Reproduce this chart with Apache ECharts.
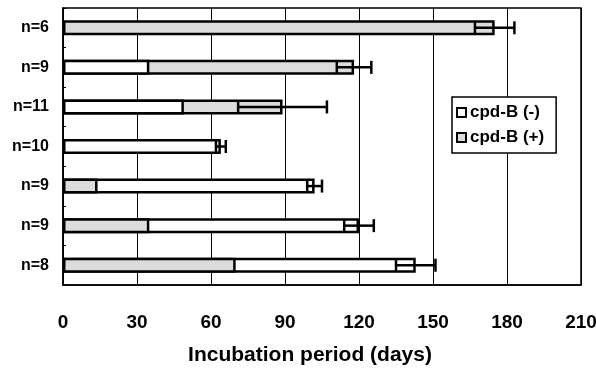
<!DOCTYPE html>
<html>
<head>
<meta charset="utf-8">
<script src="https://cdn.jsdelivr.net/npm/echarts@6/dist/echarts.min.js"></script>
<style>
  html, body { margin: 0; padding: 0; background: #fff; }
  #chart { width: 596px; height: 368px; }
</style>
</head>
<body>
<div id="chart"></div>
<script>
// rows top to bottom
const rowLabels = ['n=6', 'n=9', 'n=11', 'n=10', 'n=9', 'n=9', 'n=8']
// incubation period (days); null = not visible
const minusDays = [null, 35, 49, 64, 102, 120, 143]   // cpd-B (-)
const plusDays = [175, 118, 89, null, 14, 35, 70]     // cpd-B (+)
const errDays = [8, 7, 18, 2, 3, 6, 8]
const xTicks = [0, 30, 60, 90, 120, 150, 180, 210]

const WHITE = '#ffffff'
const GRAY = '#dcdcdc'

// longer bar goes behind, shorter one drawn over it
const backData = [], frontData = [], errData = []
rowLabels.forEach((_, i) => {
  const m = minusDays[i], p = plusDays[i]
  const mItem = { value: m, itemStyle: { color: WHITE } }
  const pItem = { value: p, itemStyle: { color: GRAY } }
  if (m == null) { backData.push(pItem); frontData.push(null) }
  else if (p == null) { backData.push(mItem); frontData.push(null) }
  else if (m >= p) { backData.push(mItem); frontData.push(pItem) }
  else { backData.push(pItem); frontData.push(mItem) }
  const top = Math.max(m ?? 0, p ?? 0)
  errData.push([top, i, errDays[i]])
})

const barStyle = { borderColor: '#000', borderWidth: 2.5 }
const chart = echarts.init(document.getElementById('chart'))
chart.setOption({
  animation: false,
  textStyle: { fontFamily: 'Liberation Sans, Arial, sans-serif' },
  grid: {
    left: 63, right: 15, top: 8, bottom: 83, outerBoundsMode: 'none', containLabel: false,
    show: true, borderColor: '#000', borderWidth: 1.5
  },
  legend: {
    left: 452, top: 97, orient: 'vertical',
    data: ['cpd-B (-)', 'cpd-B (+)'],
    icon: 'rect', itemWidth: 9, itemHeight: 9, itemGap: 8,
    padding: [7, 12, 7, 4],
    backgroundColor: '#fff', borderColor: '#000', borderWidth: 1.5,
    textStyle: { color: '#000', fontSize: 17, fontWeight: 'bold', padding: [0, 0, 0, -1] }
  },
  xAxis: {
    type: 'value', min: 0, max: 210, interval: 30,
    axisLine: { show: true, lineStyle: { color: '#000', width: 1.5 } },
    axisTick: { show: false },
    splitLine: { show: true, lineStyle: { color: '#000', width: 1 } },
    axisLabel: { color: '#000', fontSize: 19, fontWeight: 'bold', margin: 28,
      formatter: v => xTicks.includes(v) ? String(v) : '' },
    name: 'Incubation period (days)', nameLocation: 'middle', nameGap: 60,
    nameTextStyle: { color: '#000', fontSize: 21, fontWeight: 'bold', padding: [0, 24, 0, 0] }
  },
  yAxis: {
    type: 'category', inverse: true,
    data: rowLabels.map((_, i) => i),
    axisLine: { show: true, lineStyle: { color: '#000', width: 1.5 } },
    axisTick: { show: true, inside: true, length: 3, lineStyle: { color: '#000' } },
    axisLabel: { color: '#000', fontSize: 16, fontWeight: 'bold', margin: 14,
      formatter: v => rowLabels[v] }
  },
  series: [
    { name: 'cpd-B (-)', type: 'bar', data: [], itemStyle: { color: WHITE, borderColor: '#000', borderWidth: 2 } },
    { name: 'cpd-B (+)', type: 'bar', data: [], itemStyle: { color: GRAY, borderColor: '#000', borderWidth: 2 } },
    { name: 'back', type: 'bar', data: backData, barWidth: 15, barGap: '-100%', itemStyle: barStyle, z: 2 },
    { name: 'front', type: 'bar', data: frontData, barWidth: 15, barGap: '-100%', itemStyle: barStyle, z: 3 },
    {
      name: 'err', type: 'custom', z: 5, data: errData,
      renderItem: (params, api) => {
        const v = api.value(0), row = api.value(1), e = api.value(2)
        const lo = api.coord([v - e, row]), hi = api.coord([v + e, row])
        const h = 6.5
        const st = { stroke: '#000', lineWidth: 2.5 }
        return {
          type: 'group', children: [
            { type: 'line', shape: { x1: lo[0], y1: lo[1], x2: hi[0], y2: hi[1] }, style: st },
            { type: 'line', shape: { x1: lo[0], y1: lo[1] - h, x2: lo[0], y2: lo[1] + h }, style: st },
            { type: 'line', shape: { x1: hi[0], y1: hi[1] - h, x2: hi[0], y2: hi[1] + h }, style: st }
          ]
        }
      }
    }
  ]
})
</script>
</body>
</html>
